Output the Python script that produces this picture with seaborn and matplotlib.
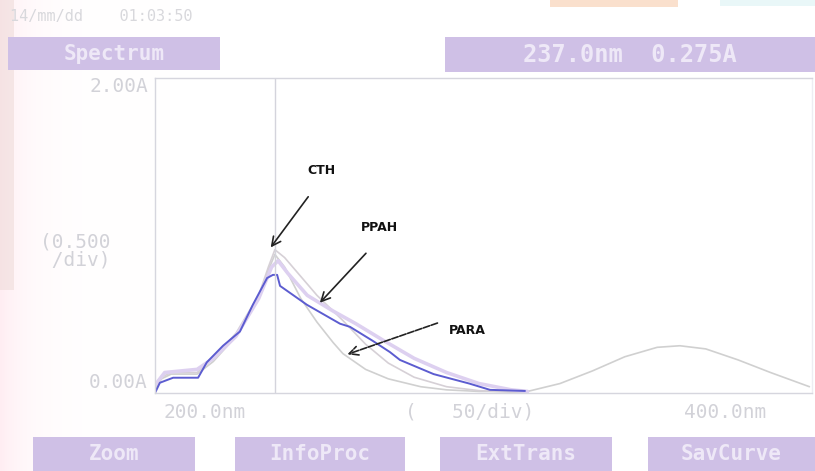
import numpy as np
import pandas as pd
import matplotlib
matplotlib.use("Agg")
import matplotlib.pyplot as plt
from matplotlib.patches import Rectangle
import seaborn as sns

# Wavelengths (nm) and absorbances (A) of each stored trace
nm_cth = [200, 202, 205, 213, 218, 225, 232, 235, 237, 240, 245, 250, 258, 265, 272, 280, 290, 300, 310, 315]
abs_cth = [0.03, 0.10, 0.13, 0.13, 0.22, 0.38, 0.62, 0.80, 0.91, 0.86, 0.74, 0.62, 0.46, 0.31, 0.19, 0.10, 0.04, 0.015, 0.005, 0.0]

nm_ppah = [200, 203, 213, 218, 225, 232, 236, 238, 241, 247, 255, 262, 270, 280, 290, 300, 310, 315]
abs_ppah = [0.05, 0.13, 0.15, 0.22, 0.36, 0.60, 0.80, 0.84, 0.76, 0.62, 0.52, 0.44, 0.34, 0.22, 0.13, 0.06, 0.02, 0.01]

nm_para = [200, 202, 205, 213, 218, 225, 232, 235, 237, 240, 245, 250, 255, 258, 265, 272, 282, 290, 300, 315,
           325, 335, 345, 355, 362, 370, 380, 390, 398, 402]
abs_para = [0.02, 0.09, 0.12, 0.12, 0.20, 0.36, 0.60, 0.78, 0.88, 0.80, 0.60, 0.45, 0.32, 0.25, 0.15, 0.09, 0.04, 0.02, 0.01, 0.01,
            0.06, 0.14, 0.23, 0.29, 0.30, 0.28, 0.21, 0.13, 0.07, 0.04]

nm_blue = [200, 201.5, 205.6, 213.3, 216, 221, 226.2, 230.2, 234.6, 236.4, 237.7, 238.6, 246.9, 257.1, 260.2,
           267.3, 272.5, 275.6, 286, 297, 303.4, 314.2]
abs_blue = [0.0, 0.065, 0.097, 0.097, 0.195, 0.30, 0.39, 0.56, 0.73, 0.75, 0.75, 0.68, 0.56, 0.44, 0.42,
            0.33, 0.26, 0.21, 0.12, 0.06, 0.02, 0.013]

cursor_nm = 237.0
y_ticks = [0.0, 0.5, 1.0, 1.5, 2.0]
x_ticks = [200, 250, 300, 350, 400]

W, H = 815, 471
fig = plt.figure(figsize=(W / 100, H / 100), dpi=100)
sns.set_style("white")
plt.rcParams["font.family"] = ["DejaVu Sans Mono", "DejaVu Sans"]


def fx(px):
    return px / W


def fy(py):
    return 1 - py / H


# Softly tinted paper background
bg = fig.add_axes([0, 0, 1, 1], zorder=-10)
bg.set_xlim(0, W)
bg.set_ylim(H, 0)
bg.axis("off")
gx = np.linspace(0, 1, 200)
grad = np.exp(-gx * 6)
img = np.ones((10, 200, 4))
img[..., 1] = 1 - 0.07 * grad
img[..., 2] = 1 - 0.05 * grad
bg.imshow(img, extent=[0, 170, H, 0], aspect="auto")
bg.add_patch(Rectangle((0, 0), 14, 290, color="#ead6d2", alpha=0.45, lw=0))
bg.add_patch(Rectangle((550, 0), 128, 7, color="#f8d4b8", alpha=0.7, lw=0))
bg.add_patch(Rectangle((720, 0), 95, 6, color="#e0f4f6", alpha=0.7, lw=0))

ax = fig.add_axes([fx(155), fy(393), fx(812 - 155), fy(78) - fy(393)])
ax.set_facecolor("none")

traces = [
    (nm_para, abs_para, "#d0d0d0", 1.2),
    (nm_cth, abs_cth, "#d6d0d6", 1.2),
    (nm_ppah, abs_ppah, "#ddd0f0", 2.6),
    (nm_blue, abs_blue, "#5c5cd0", 1.4),
]
for xs, ys, col, lw in traces:
    df = pd.DataFrame({"nm": xs, "A": ys})
    sns.lineplot(data=df, x="nm", y="A", ax=ax, color=col, lw=lw)

ax.axvline(cursor_nm, color="#d4d4dc", lw=1.0)
ax.set_xlim(200, 402.8)
ax.set_ylim(0, 2.0)
ax.set_xticks(x_ticks)
ax.set_yticks(y_ticks)
ax.set_xticklabels([])
ax.set_yticklabels([])
ax.tick_params(axis="both", direction="in", length=4, color="#d4d4dc", width=0.8)
ax.set_xlabel("")
ax.set_ylabel("")
for s in ax.spines.values():
    s.set_color("#d6d6de")
    s.set_linewidth(1.0)
ax.spines["right"].set_color("#ededf2")

# Hand-written labels with arrows
lab_kw = dict(fontsize=9, fontweight="bold", color="#111111", family="DejaVu Sans")
arrow_kw = dict(arrowstyle="->", color="#222222", lw=1.2, mutation_scale=16)
ax.annotate("", xy=(235.2, 0.91), xytext=(247.8, 1.26), arrowprops=arrow_kw)
ax.text(251.5, 1.41, "CTH", ha="center", va="center", **lab_kw)
ax.annotate("", xy=(250.3, 0.56), xytext=(265.7, 0.90), arrowprops=arrow_kw)
ax.text(269.4, 1.05, "PPAH", ha="center", va="center", **lab_kw)
ax.annotate("", xy=(258.6, 0.24), xytext=(288.0, 0.45),
            arrowprops=dict(arrowstyle="->", color="#222222", lw=1.2, mutation_scale=16, linestyle=(0, (4, 1))))
ax.text(296.5, 0.40, "PARA", ha="center", va="center", **lab_kw)

# Screen text
gray = "#d2d2d8"
fig.text(fx(10), fy(17), "14/mm/dd    01:03:50", fontsize=11, color="#d8d8dc", va="center", ha="left")
fig.text(fx(148), fy(86), "2.00A", fontsize=14, color=gray, va="center", ha="right")
fig.text(fx(75), fy(251), "(0.500\n /div)", fontsize=14, color=gray, va="center", ha="center", linespacing=0.9)
fig.text(fx(148), fy(383), "0.00A", fontsize=14, color=gray, va="center", ha="right")
fig.text(fx(205), fy(412), "200.0nm", fontsize=14, color=gray, va="center", ha="center")
fig.text(fx(470), fy(412), "(   50/div)", fontsize=14, color=gray, va="center", ha="center")
fig.text(fx(725), fy(412), "400.0nm", fontsize=14, color=gray, va="center", ha="center")

# Soft-key boxes
box_col = "#cfc0e6"
txt_col = "#eee8f7"
boxes = [
    ((8, 37, 212, 33), "Spectrum", 15),
    ((445, 37, 370, 35), "237.0nm  0.275A", 17),
    ((33, 437, 162, 34), "Zoom", 15),
    ((235, 437, 170, 34), "InfoProc", 15),
    ((440, 437, 172, 34), "ExtTrans", 15),
    ((648, 437, 167, 34), "SavCurve", 15),
]
for (x0, y0, w, h), label, fs in boxes:
    bg.add_patch(Rectangle((x0, y0), w, h, color=box_col, lw=0, zorder=1))
    bg.text(x0 + w / 2, y0 + h / 2, label, fontsize=fs, fontweight="bold", color=txt_col,
            ha="center", va="center", zorder=2)

fig.savefig("out.png", dpi=100)
